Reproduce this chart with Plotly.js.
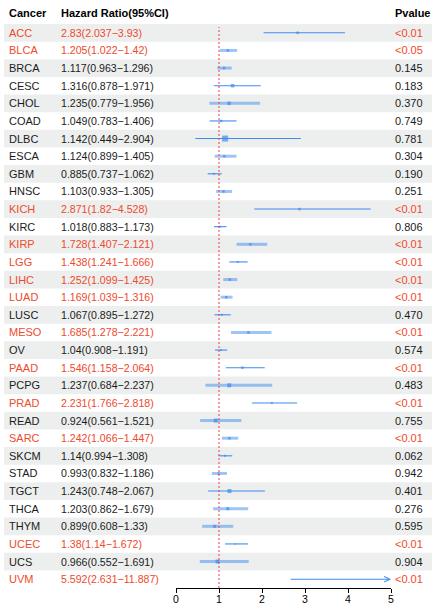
<!DOCTYPE html>
<html>
<head>
<meta charset="utf-8">
<script src="https://cdn.plot.ly/plotly-3.0.1.min.js"></script>
<style>html,body{margin:0;padding:0;background:#fff;}#chart{width:432px;height:606px;}</style>
</head>
<body>
<div id="chart"></div>
<script>
// ---- data ----
var cancers = ["ACC","BLCA","BRCA","CESC","CHOL","COAD","DLBC","ESCA","GBM","HNSC","KICH","KIRC","KIRP","LGG","LIHC","LUAD","LUSC","MESO","OV","PAAD","PCPG","PRAD","READ","SARC","SKCM","STAD","TGCT","THCA","THYM","UCEC","UCS","UVM"];
var hr    = [2.83,1.205,1.117,1.316,1.235,1.049,1.142,1.124,0.885,1.103,2.871,1.018,1.728,1.438,1.252,1.169,1.067,1.685,1.04,1.546,1.237,2.231,0.924,1.242,1.14,0.993,1.243,1.203,0.899,1.38,0.966,5.592];
var lower = [2.037,1.022,0.963,0.878,0.779,0.783,0.449,0.899,0.737,0.933,1.82,0.883,1.407,1.241,1.099,1.039,0.895,1.278,0.908,1.158,0.684,1.766,0.561,1.066,0.994,0.832,0.748,0.862,0.608,1.14,0.552,2.631];
var upper = [3.93,1.42,1.296,1.971,1.956,1.406,2.904,1.405,1.062,1.305,4.528,1.173,2.121,1.666,1.425,1.316,1.272,2.221,1.191,2.064,2.237,2.818,1.521,1.447,1.308,1.186,2.067,1.679,1.33,1.672,1.691,11.887];
var pvalues = ["<0.01","<0.05","0.145","0.183","0.370","0.749","0.781","0.304","0.190","0.251","<0.01","0.806","<0.01","<0.01","<0.01","<0.01","0.470","<0.01","0.574","<0.01","0.483","<0.01","0.755","<0.01","0.062","0.942","0.401","0.276","0.595","<0.01","0.904","<0.01"];
var xTicks = [0,1,2,3,4,5];
var headers = ["Cancer","Hazard Ratio(95%CI)","Pvalue"];

// ---- styles (appearance only) ----
var thickCI = [0,1,1,0,1,0,0,1,0,1,0,0,1,0,1,1,0,1,0,0,1,0,1,1,0,1,0,1,1,0,1,0];
var ptSize  = [2.5,2.5,2.5,3.5,3.5,2.5,6,2.5,2,2.5,2.5,2,2.5,2,2.5,2.5,2,2.5,2,2.5,4,2,4,2.5,2,2,4,3,3,1.5,4,2.5];
var XMAX = 5;
var BLUE = "#3F8BF0", BLUE_LIGHT = "rgba(63,139,240,0.5)", RED = "#EE4A2C", TXT = "#1b1b1b";
var FONT = "Liberation Sans, Arial, Helvetica, sans-serif";
var W = 432, H = 606, MT = 24, MB = 18;
var plotH = H - MT - MB;
function pyPaper(px){ return (H - MB - px) / plotH; }

var traces = [];
var shapes = [];
var annotations = [];
var n = cancers.length;

for (var i = 0; i < n; i++) {
  if (i % 2 === 0) {
    shapes.push({type:"rect", layer:"below", xref:"paper", yref:"y", x0:4/W, x1:1, y0:i-0.5, y1:i+0.5,
      fillcolor:"#EDEFEE", line:{width:0}});
  }
  var sig = pvalues[i].charAt(0) === "<";
  var col = sig ? RED : TXT;
  if (upper[i] <= XMAX) {
    traces.push({type:"scatter", mode:"lines", x:[lower[i], upper[i]], y:[i, i],
      line:{color: thickCI[i] ? BLUE_LIGHT : BLUE, width: thickCI[i] ? 3 : 1.1},
      hoverinfo:"skip", showlegend:false});
  } else {
    annotations.push({xref:"x", yref:"y", axref:"x", ayref:"y", x:XMAX, y:i, ax:lower[i], ay:i,
      text:"", showarrow:true, arrowhead:5, arrowsize:1, arrowwidth:1.1, arrowcolor:BLUE, standoff:0, startstandoff:0});
  }
  annotations.push({xref:"paper", yref:"y", x:7/W, y:i, xanchor:"left", yanchor:"middle", showarrow:false,
    text:cancers[i], font:{family:FONT, size:11, color:col}});
  annotations.push({xref:"paper", yref:"y", x:59/W, y:i, xanchor:"left", yanchor:"middle", showarrow:false,
    text:hr[i] + "(" + lower[i] + "\u2212" + upper[i] + ")", font:{family:FONT, size:10.6, color:col}});
  annotations.push({xref:"paper", yref:"y", x:392.5/W, y:i, xanchor:"left", yanchor:"middle", showarrow:false,
    text:pvalues[i], font:{family:FONT, size:11, color:col}});
}

traces.push({type:"scatter", mode:"markers", x:hr, y:cancers.map(function(_, k){return k;}),
  marker:{symbol:"square", color:BLUE, size:ptSize, line:{width:0}}, cliponaxis:true,
  hoverinfo:"skip", showlegend:false});

var headerX = [7/W, 59/W, 392.5/W];
for (var h = 0; h < headers.length; h++) {
  annotations.push({xref:"paper", yref:"paper", x:headerX[h], y:pyPaper(13), xanchor:"left", yanchor:"middle",
    showarrow:false, text:"<b>" + headers[h] + "</b>", font:{family:FONT, size:11, color:"#000"}});
}

shapes.push({type:"line", xref:"x", yref:"paper", x0:1, x1:1, y0:0, y1:pyPaper(27),
  line:{color:"#E5414A", width:1, dash:"2px,2px"}});

var layout = {
  width:W, height:H,
  margin:{l:0, r:0, t:MT, b:MB, pad:0},
  paper_bgcolor:"#fff", plot_bgcolor:"rgba(0,0,0,0)",
  showlegend:false,
  xaxis:{domain:[176/W, 391/W], range:[0, XMAX], tickvals:xTicks, ticktext:xTicks.map(String),
    showline:true, linecolor:"#000", linewidth:1, ticks:"outside", ticklen:4, tickcolor:"#000", tickwidth:1,
    ticklabelstandoff:-3,
    showgrid:false, zeroline:false, tickfont:{family:FONT, size:10.5, color:"#000"}, fixedrange:true},
  yaxis:{range:[n-0.5, -0.5], visible:false, showgrid:false, zeroline:false, fixedrange:true},
  shapes:shapes, annotations:annotations
};

Plotly.newPlot("chart", traces, layout, {staticPlot:true, displayModeBar:false});
</script>
</body>
</html>
